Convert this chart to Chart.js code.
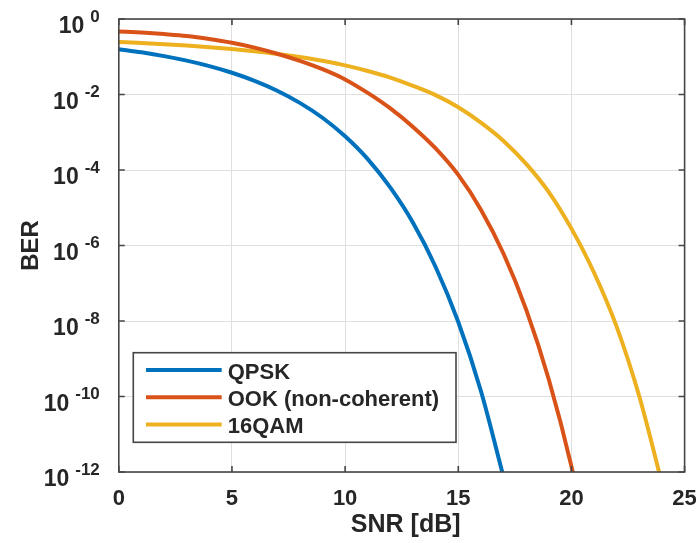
<!DOCTYPE html>
<html>
<head>
<meta charset="utf-8">
<script src="https://cdn.jsdelivr.net/npm/chart.js@4/dist/chart.umd.min.js"></script>
<style>
  html, body { margin: 0; padding: 0; background: #ffffff; }
  canvas { display: block; }
</style>
</head>
<body>
<canvas id="ber" width="696" height="543"></canvas>
<script>
// SNR grid (dB) shared by all curves
const snrDb = [0, 1, 2, 3, 4, 5, 6, 7, 8, 9, 10, 11, 12, 13, 14, 15, 16, 17, 18, 19, 20, 21, 22, 23, 24];

// Bit error rate per modulation format
const qpskBer = [1.59e-1, 1.31e-1, 1.04e-1, 7.89e-2, 5.65e-2, 3.77e-2, 2.30e-2, 1.26e-2, 6.0e-3, 2.42e-3,
                 7.8e-4, 1.94e-4, 3.4e-5, 4.0e-6, 2.7e-7, 9.4e-9, 1.4e-10, 7.3e-13];
const ookBer = [4.68e-1, 4.37e-1, 3.98e-1, 3.55e-1, 2.95e-1, 2.34e-1, 1.74e-1, 1.20e-1, 7.76e-2, 4.68e-2,
                2.51e-2, 1.10e-2, 4.27e-3, 1.38e-3, 3.72e-4, 7.41e-5, 8.91e-6, 6.03e-7, 2.0e-8, 2.82e-10,
                1.41e-12, 2.0e-15];
const qam16Ber = [2.46e-1, 2.31e-1, 2.15e-1, 1.98e-1, 1.79e-1, 1.60e-1, 1.40e-1, 1.19e-1, 9.8e-2, 7.8e-2,
                  5.9e-2, 4.2e-2, 2.8e-2, 1.7e-2, 9.6e-3, 4.6e-3, 1.8e-3, 5.9e-4, 1.45e-4, 2.6e-5,
                  2.8e-6, 1.9e-7, 7.0e-9, 1.0e-10, 5.0e-13];

const seriesNames = ['QPSK', 'OOK (non-coherent)', '16QAM'];
const seriesColors = ['#0072BD', '#D95319', '#EDB120'];

// Axis ticks
const xTicks = [0, 5, 10, 15, 20, 25];
const yExponents = [0, -2, -4, -6, -8, -10, -12];
const xTitle = 'SNR [dB]';
const yTitle = 'BER';

const FONT = '"Liberation Sans", Arial, Helvetica, sans-serif';
const INK = '#262626';
const AXIS = '#454545';

function toPoints(values) {
  return values.map((v, i) => ({ x: snrDb[i], y: v }));
}

// Box axes with inward ticks, 10^n tick labels, titles and an in-plot legend
const framePlugin = {
  id: 'frame',
  beforeDraw(chart) {
    const ctx = chart.ctx;
    ctx.save();
    ctx.fillStyle = '#ffffff';
    ctx.fillRect(0, 0, chart.width, chart.height);
    ctx.restore();
  },
  afterDatasetsDraw(chart) {
    const { ctx, chartArea: a, scales } = chart;
    const xs = scales.x, ys = scales.y;
    ctx.save();

    // frame and inward tick marks
    ctx.strokeStyle = AXIS;
    ctx.lineWidth = 1.6;
    const tl = 6;
    ctx.beginPath();
    xTicks.forEach(v => {
      const px = xs.getPixelForValue(v);
      ctx.moveTo(px, a.bottom); ctx.lineTo(px, a.bottom - tl);
      ctx.moveTo(px, a.top); ctx.lineTo(px, a.top + tl);
    });
    yExponents.forEach(e => {
      const py = ys.getPixelForValue(Math.pow(10, e));
      ctx.moveTo(a.left, py); ctx.lineTo(a.left + tl, py);
      ctx.moveTo(a.right, py); ctx.lineTo(a.right - tl, py);
    });
    ctx.stroke();
    ctx.strokeRect(a.left, a.top, a.right - a.left, a.bottom - a.top);

    ctx.fillStyle = INK;

    // x tick labels
    ctx.font = 'bold 22px ' + FONT;
    ctx.textAlign = 'center';
    ctx.textBaseline = 'alphabetic';
    xTicks.forEach(v => {
      ctx.fillText(String(v), xs.getPixelForValue(v), a.bottom + 33);
    });

    // y tick labels as 10 with a raised exponent
    const labelRight = a.left - 19;
    yExponents.forEach(e => {
      const py = ys.getPixelForValue(Math.pow(10, e));
      const sup = String(e);
      ctx.font = 'bold 17px ' + FONT;
      ctx.textAlign = 'right';
      const w = ctx.measureText(sup).width;
      ctx.fillText(sup, labelRight, py + 2.5);
      ctx.font = 'bold 23px ' + FONT;
      ctx.fillText('10', labelRight - w - 6, py + 14);
    });

    // axis titles
    ctx.font = 'bold 25px ' + FONT;
    ctx.textAlign = 'center';
    ctx.fillText(xTitle, (a.left + a.right) / 2 + 4, a.bottom + 60);
    ctx.font = 'bold 24px ' + FONT;
    ctx.save();
    ctx.translate(38, (a.top + a.bottom) / 2);
    ctx.rotate(-Math.PI / 2);
    ctx.fillText(yTitle, 0, 0);
    ctx.restore();

    // legend
    const lx = a.left + 14.5, ly = 352.7, lw = 322.7, lh = 89.6;
    ctx.fillStyle = '#ffffff';
    ctx.fillRect(lx, ly, lw, lh);
    ctx.strokeStyle = AXIS;
    ctx.lineWidth = 1.6;
    ctx.strokeRect(lx, ly, lw, lh);
    ctx.font = 'bold 22px ' + FONT;
    ctx.textAlign = 'left';
    chart.data.datasets.forEach((ds, i) => {
      const rowY = ly + 17.3 + i * 27.3;
      ctx.strokeStyle = ds.borderColor;
      ctx.lineWidth = 4;
      ctx.beginPath();
      ctx.moveTo(lx + 12.7, rowY);
      ctx.lineTo(lx + 88.4, rowY);
      ctx.stroke();
      ctx.fillStyle = INK;
      ctx.fillText(ds.label, lx + 94.4, rowY + 8.5);
    });

    ctx.restore();
  }
};

const seriesValues = [qpskBer, ookBer, qam16Ber];

new Chart(document.getElementById('ber'), {
  type: 'line',
  data: {
    datasets: seriesValues.map((vals, i) => ({
      label: seriesNames[i],
      data: toPoints(vals),
      borderColor: seriesColors[i],
      backgroundColor: seriesColors[i],
      borderWidth: 4,
      pointRadius: 0,
      fill: false,
      cubicInterpolationMode: 'monotone',
      clip: { left: 0, top: 6, right: 0, bottom: 0 }
    }))
  },
  options: {
    responsive: false,
    devicePixelRatio: 1,
    animation: false,
    layout: { padding: { left: 118.8, right: 11.4, top: 19, bottom: 71 } },
    plugins: {
      legend: { display: false },
      tooltip: { enabled: false }
    },
    scales: {
      x: {
        type: 'linear',
        min: 0,
        max: 25,
        ticks: { display: false, stepSize: 5 },
        afterBuildTicks(scale) { scale.ticks = xTicks.map(v => ({ value: v })); },
        grid: { color: '#dfdfdf', lineWidth: 1, drawTicks: false },
        border: { display: false }
      },
      y: {
        type: 'logarithmic',
        min: 1e-12,
        max: 1,
        ticks: { display: false },
        afterBuildTicks(scale) { scale.ticks = yExponents.map(e => ({ value: Math.pow(10, e) })); },
        grid: { color: '#dfdfdf', lineWidth: 1, drawTicks: false },
        border: { display: false }
      }
    }
  },
  plugins: [framePlugin]
});
</script>
</body>
</html>
